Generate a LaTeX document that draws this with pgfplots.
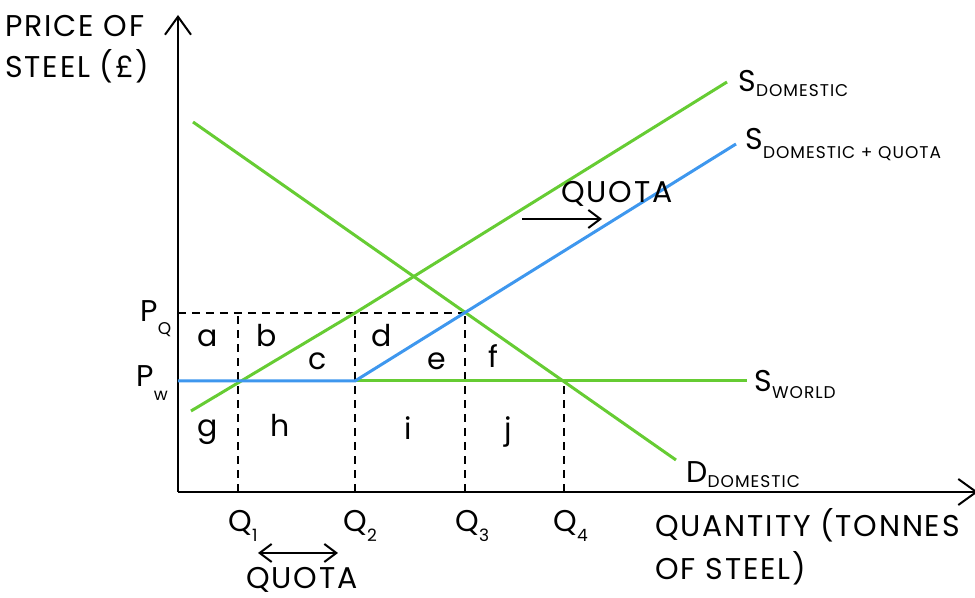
\documentclass[border=0pt]{standalone}
\usepackage{pgfplots}
\pgfplotsset{compat=1.18}
\usepackage{fontspec}
\setmainfont{Poppins}[LetterSpace=6]
\usetikzlibrary{arrows.meta}
\definecolor{sgreen}{RGB}{102,204,51}
\definecolor{sblue}{RGB}{62,151,238}
\newcommand{\mainfs}{\fontsize{15}{18}\selectfont}
\newcommand{\subfs}{\fontsize{8.5}{10}\selectfont}
\newcommand{\lab}[3]{#1\raisebox{-#3}{\subfs #2}}
\tikzset{lbl/.style={font=\mainfs, inner sep=0pt}}

\begin{document}
\begin{tikzpicture}
\begin{axis}[x=0.5pt, y=0.5pt,
    xmin=0, xmax=800, ymin=0, ymax=477,
    axis lines=left, ticks=none, clip=false,
    axis line style={line width=1pt, -{Straight Barb[length=9pt,width=13pt,line width=1pt]}},
    every axis plot/.append style={line width=1.5pt}]

% dashed guides
\addplot[black, line width=1pt, dash pattern=on 4pt off 3pt] coordinates {(0,179) (287,179)};
\addplot[black, line width=1pt, dash pattern=on 4pt off 3pt] coordinates {(60,0) (60,179)};
\addplot[black, line width=1pt, dash pattern=on 4pt off 3pt] coordinates {(177,0) (177,179)};
\addplot[black, line width=1pt, dash pattern=on 4pt off 3pt] coordinates {(287,0) (287,179)};
\addplot[black, line width=1pt, dash pattern=on 4pt off 3pt] coordinates {(386,0) (386,111)};

% curves
\addplot[sgreen] coordinates {(13,81) (177,179) (549,410)};   % S domestic
\addplot[sgreen] coordinates {(15,370) (498,32)};             % D domestic
\addplot[sgreen] coordinates {(177,111) (569,111)};           % S world
\addplot[sblue] coordinates {(0,111) (177,111) (558,348)};    % S domestic + quota

% arrows
\addplot[black, line width=1pt, -{Straight Barb[length=6pt,width=9pt]}] coordinates {(344,273) (424,273)};
\addplot[black, line width=1pt, {Straight Barb[length=6pt,width=9pt]}-{Straight Barb[length=6pt,width=9pt]}] coordinates {(80,-61) (160,-61)};

% axis titles
\node[lbl, anchor=base west] at (axis cs:-173,455) {PRICE OF};
\node[lbl, anchor=base west] at (axis cs:-173,414) {STEEL (£)};
\node[lbl, anchor=base west] at (axis cs:477,-45) {QUANTITY (TONNES};
\node[lbl, anchor=base west] at (axis cs:477,-88) {OF STEEL)};

% prices and quantities
\node[lbl, anchor=base west] at (axis cs:-38,170) {\lab{P}{Q}{6.5pt}};
\node[lbl, anchor=base west] at (axis cs:-42,105) {\lab{P}{w}{7pt}};
\node[lbl, anchor=base west] at (axis cs:50,-40) {\lab{Q}{1}{5pt}};
\node[lbl, anchor=base west] at (axis cs:165,-40) {\lab{Q}{2}{5pt}};
\node[lbl, anchor=base west] at (axis cs:277,-40) {\lab{Q}{3}{5pt}};
\node[lbl, anchor=base west] at (axis cs:375,-40) {\lab{Q}{4}{5pt}};
\node[lbl, anchor=base west] at (axis cs:68,-97) {QUOTA};
\node[lbl, anchor=base west] at (axis cs:383,289) {QUOTA};

% curve labels
\node[lbl, anchor=base west] at (axis cs:560,400) {\lab{S}{DOMESTIC}{2.5pt}};
\node[lbl, anchor=base west] at (axis cs:567,342) {\lab{S}{DOMESTIC + QUOTA}{4.5pt}};
\node[lbl, anchor=base west] at (axis cs:576,100) {\lab{S}{WORLD}{3.5pt}};
\node[lbl, anchor=base west] at (axis cs:508,9) {\lab{D}{DOMESTIC}{2.5pt}};

% area letters
\node[lbl, anchor=base] at (axis cs:30,145) {a};
\node[lbl, anchor=base] at (axis cs:89,145) {b};
\node[lbl, anchor=base] at (axis cs:140,122) {c};
\node[lbl, anchor=base] at (axis cs:204,145) {d};
\node[lbl, anchor=base] at (axis cs:259,122) {e};
\node[lbl, anchor=base] at (axis cs:315,124) {f};
\node[lbl, anchor=base] at (axis cs:30,55) {g};
\node[lbl, anchor=base] at (axis cs:102,55) {h};
\node[lbl, anchor=base] at (axis cs:230,52) {i};
\node[lbl, anchor=base] at (axis cs:330,52) {j};

\coordinate (bl) at (axis cs:-178,-106);
\coordinate (tr) at (axis cs:797,492);
\end{axis}
\pgfresetboundingbox
\path[use as bounding box] (bl) rectangle (tr);
\end{tikzpicture}
\end{document}
